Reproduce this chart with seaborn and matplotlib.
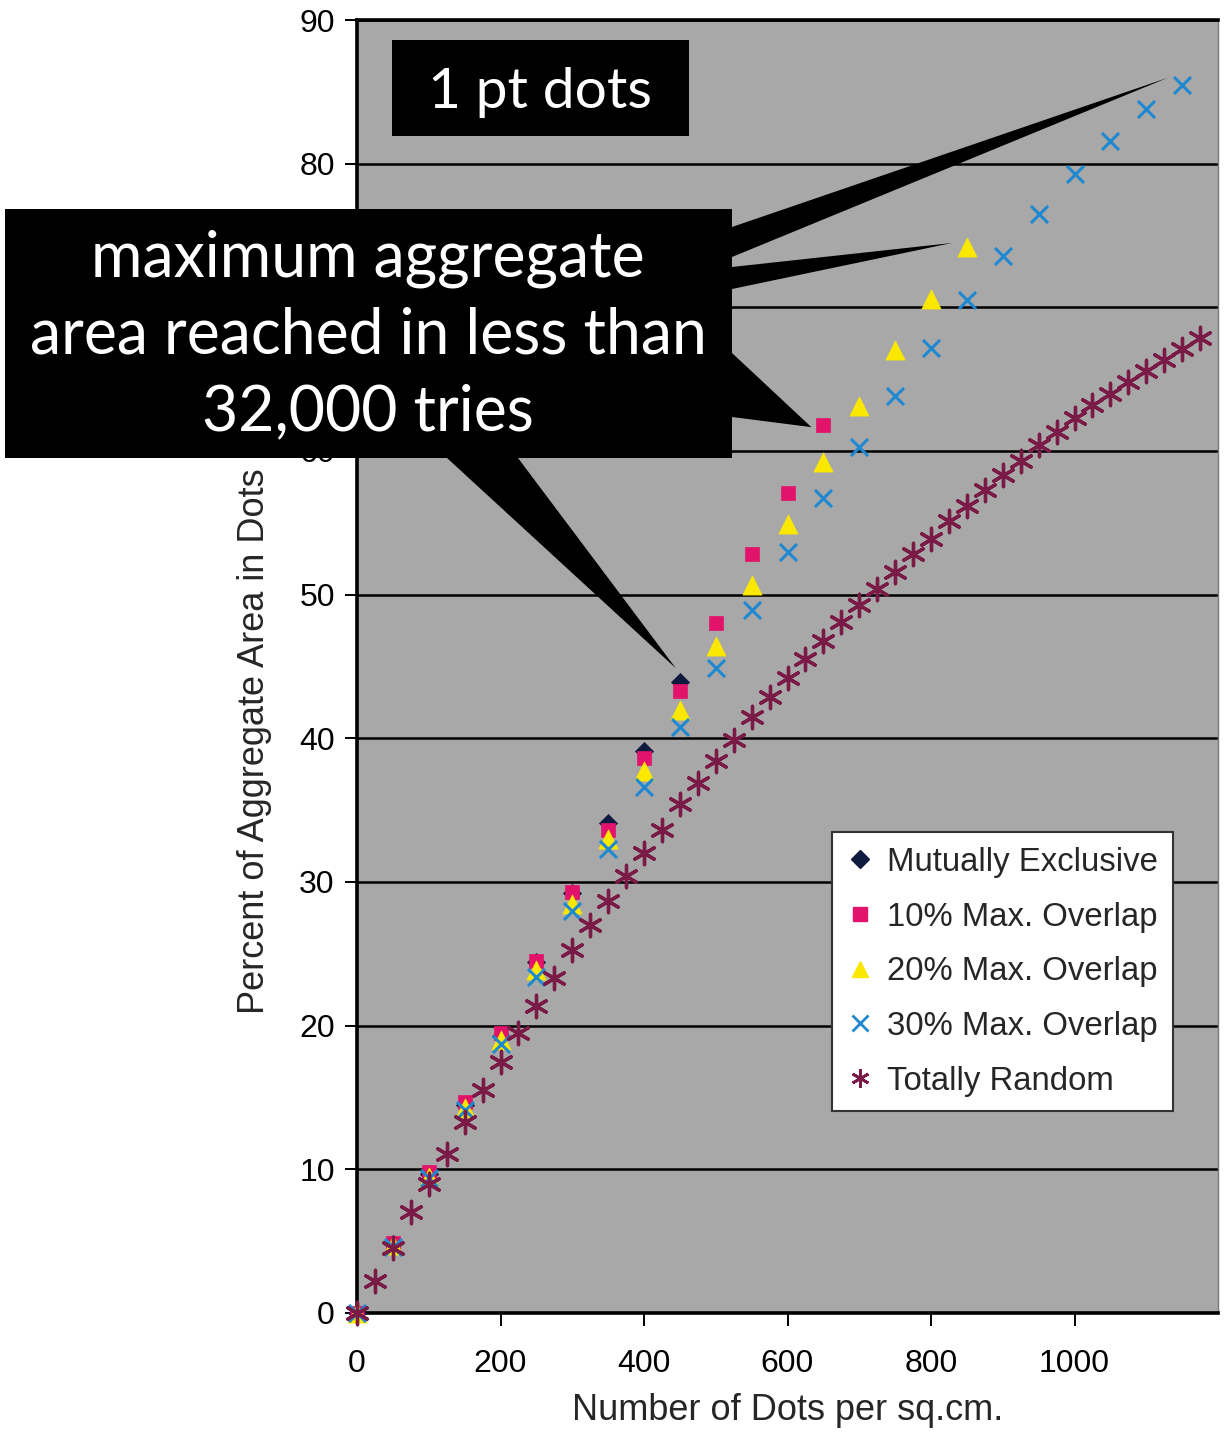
import matplotlib
matplotlib.use("Agg")
import matplotlib.pyplot as plt
import seaborn as sns
from matplotlib.patches import Rectangle, Polygon
from matplotlib.lines import Line2D

# ---- data: percent of aggregate area covered vs. dots per sq.cm. ----
x_exclusive = [0, 50, 100, 150, 200, 250, 300, 350, 400, 450]
y_exclusive = [0, 4.8, 9.7, 14.5, 19.3, 24.4, 29.2, 34.1, 39.1, 43.9]

x_overlap10 = [0, 50, 100, 150, 200, 250, 300, 350, 400, 450, 500, 550, 600, 650]
y_overlap10 = [0, 4.9, 9.8, 14.7, 19.5, 24.5, 29.3, 33.6, 38.6, 43.3, 48.0, 52.8, 57.1, 61.8]

x_overlap20 = [0, 50, 100, 150, 200, 250, 300, 350, 400, 450, 500, 550, 600, 650,
               700, 750, 800, 850]
y_overlap20 = [0, 4.7, 9.5, 14.3, 19.0, 23.9, 28.5, 33.0, 37.7, 42.0, 46.4, 50.7, 54.9, 59.2,
               63.1, 67.0, 70.6, 74.2]

x_overlap30 = [0, 50, 100, 150, 200, 250, 300, 350, 400, 450, 500, 550, 600, 650,
               700, 750, 800, 850, 900, 950, 1000, 1050, 1100, 1150]
y_overlap30 = [0, 4.6, 9.4, 14.1, 18.7, 23.4, 28.0, 32.3, 36.6, 40.8, 44.9, 48.9, 53.0, 56.7,
               60.3, 63.8, 67.2, 70.5, 73.6, 76.5, 79.3, 81.6, 83.8, 85.5]

x_random = [0, 25, 50, 75, 100, 125, 150, 175, 200, 225, 250, 275, 300, 325, 350, 375,
            400, 425, 450, 475, 500, 525, 550, 575, 600, 625, 650, 675, 700, 725, 750, 775,
            800, 825, 850, 875, 900, 925, 950, 975, 1000, 1025, 1050, 1075, 1100, 1125,
            1150, 1175]
y_random = [0, 2.2, 4.5, 7.0, 9.0, 11.1, 13.3, 15.5, 17.5, 19.5, 21.4, 23.3, 25.3, 27.0,
            28.7, 30.4, 32.0, 33.6, 35.4, 36.9, 38.4, 39.9, 41.5, 42.9, 44.2, 45.5, 46.8,
            48.1, 49.3, 50.4, 51.6, 52.8, 53.9, 55.1, 56.2, 57.3, 58.3, 59.3, 60.4, 61.3,
            62.3, 63.2, 64.0, 64.8, 65.6, 66.3, 67.1, 67.9]

series_names = ["Mutually Exclusive", "10% Max. Overlap", "20% Max. Overlap",
                "30% Max. Overlap", "Totally Random"]

x_ticks = [0, 200, 400, 600, 800, 1000]
y_ticks = [0, 10, 20, 30, 40, 50, 60, 70, 80, 90]

# ---- styling ----
sns.set_style("white")
plt.rcParams["font.family"] = ["Liberation Sans", "DejaVu Sans"]

W, H = 1226, 1437
fig = plt.figure(figsize=(W / 100, H / 100), dpi=100)
fig.patch.set_facecolor("white")

def fx(px):
    return px / W

def fy(py):
    return 1 - py / H

ax = fig.add_axes([fx(357), fy(1313), fx(1218) - fx(357), fy(20) - fy(1313)])
ax.set_facecolor("#a8a8a8")
ax.set_xlim(0, 1200)
ax.set_ylim(0, 90)

styles = [
    dict(marker="D", s=85, color="#0f1a3f", edgecolor="#0f1a3f", linewidth=0.5),
    dict(marker="s", s=95, color="#e2136a", edgecolor="#e2136a", linewidth=0.5),
    dict(marker="^", s=190, color="#fbe800", edgecolor="#fbe800", linewidth=0.5),
    dict(marker="x", s=150, color="#2088d0", linewidth=2.2),
    dict(marker=(6, 2, 0), s=260, color="#7a1a46", linewidth=2.4),
]
xs = [x_exclusive, x_overlap10, x_overlap20, x_overlap30, x_random]
ys = [y_exclusive, y_overlap10, y_overlap20, y_overlap30, y_random]

for xv, yv, st in zip(xs, ys, styles):
    sns.scatterplot(x=xv, y=yv, ax=ax, legend=False, clip_on=False, zorder=4, **st)

# grid and frame
ax.set_yticks(y_ticks)
ax.set_xticks(x_ticks)
ax.yaxis.grid(True, color="black", linewidth=1.8, zorder=1)
ax.xaxis.grid(False)
ax.set_axisbelow(True)
for side in ["left", "bottom", "top"]:
    ax.spines[side].set_color("black")
    ax.spines[side].set_linewidth(2.6)
ax.spines["right"].set_color("#777777")
ax.spines["right"].set_linewidth(1.0)

ax.tick_params(axis="both", which="major", direction="out", length=9, width=1.4,
               color="black", labelsize=23, labelcolor="black",
               bottom=True, left=True)
ax.tick_params(axis="x", pad=17)
ax.tick_params(axis="y", pad=7)

# the "70" label sits entirely behind the callout box
fig.canvas.draw()
for lbl in ax.get_yticklabels():
    if lbl.get_text() == "70":
        lbl.set_visible(False)

ax.set_xlabel("Number of Dots per sq.cm.", fontsize=26, labelpad=10)
ax.set_ylabel("Percent of Aggregate Area in Dots", fontsize=26)
ax.yaxis.set_label_coords(-0.099, 0.442)

# legend
handles = [
    Line2D([], [], linestyle="none", marker="D", markersize=9, color="#0f1a3f"),
    Line2D([], [], linestyle="none", marker="s", markersize=10, color="#e2136a"),
    Line2D([], [], linestyle="none", marker="^", markersize=12, color="#fbe800"),
    Line2D([], [], linestyle="none", marker="x", markersize=11, markeredgewidth=2.0,
           color="#2088d0"),
    Line2D([], [], linestyle="none", marker=(6, 2, 0), markersize=13,
           markeredgewidth=2.0, color="#7a1a46"),
]
leg = ax.legend(handles, series_names, loc="upper left", bbox_to_anchor=(0.552, 0.372),
                borderaxespad=0, fontsize=23.7, frameon=True, fancybox=False,
                framealpha=1, edgecolor="#333333", labelspacing=0.72,
                handlelength=0.8, handletextpad=0.42, borderpad=0.45)
leg.get_frame().set_linewidth(1.5)
leg.set_zorder(6)

# ---- callouts ----
callout_font = ["Lato", "DejaVu Sans"]

fig.add_artist(Rectangle((fx(392), fy(136)), fx(689) - fx(392), fy(40) - fy(136),
                         transform=fig.transFigure, facecolor="black",
                         edgecolor="none", zorder=10))
fig.text(fx(540), fy(108), "1 pt dots", color="white", fontsize=41, ha="center",
         va="baseline", family=callout_font, zorder=11)

to_fig = fig.transFigure.inverted()

def tip(x, y, dx, dy):
    """Display point near a data marker, shifted by (dx, dy) pixels."""
    px, py = ax.transData.transform((x, y))
    return to_fig.transform((px + dx, py + dy))

wedges = [
    ([(fx(732), fy(227)), (fx(732), fy(257))], tip(x_overlap30[-1], y_overlap30[-1], -14, 7)),
    ([(fx(732), fy(267)), (fx(732), fy(289))], tip(x_overlap20[-1], y_overlap20[-1], -15, 4)),
    ([(fx(732), fy(353)), (fx(732), fy(417))], tip(x_overlap10[-1], y_overlap10[-1], -12, -2)),
    ([(fx(447), fy(458)), (fx(518), fy(458))], tip(x_exclusive[-1], y_exclusive[-1], -4, 14)),
]
for base, t in wedges:
    fig.add_artist(Polygon([base[0], tuple(t), base[1]], closed=True,
                           transform=fig.transFigure, facecolor="black",
                           edgecolor="none", zorder=10))

fig.add_artist(Rectangle((fx(5), fy(458)), fx(732) - fx(5), fy(209) - fy(458),
                         transform=fig.transFigure, facecolor="black",
                         edgecolor="none", zorder=10))
callout_lines = ["maximum aggregate", "area reached in less than", "32,000 tries"]
for line, base_y in zip(callout_lines, [277, 353, 430]):
    fig.text(fx(368), fy(base_y), line, color="white", fontsize=45, ha="center",
             va="baseline", family=callout_font, zorder=11)

fig.savefig("out.png", dpi=100)
